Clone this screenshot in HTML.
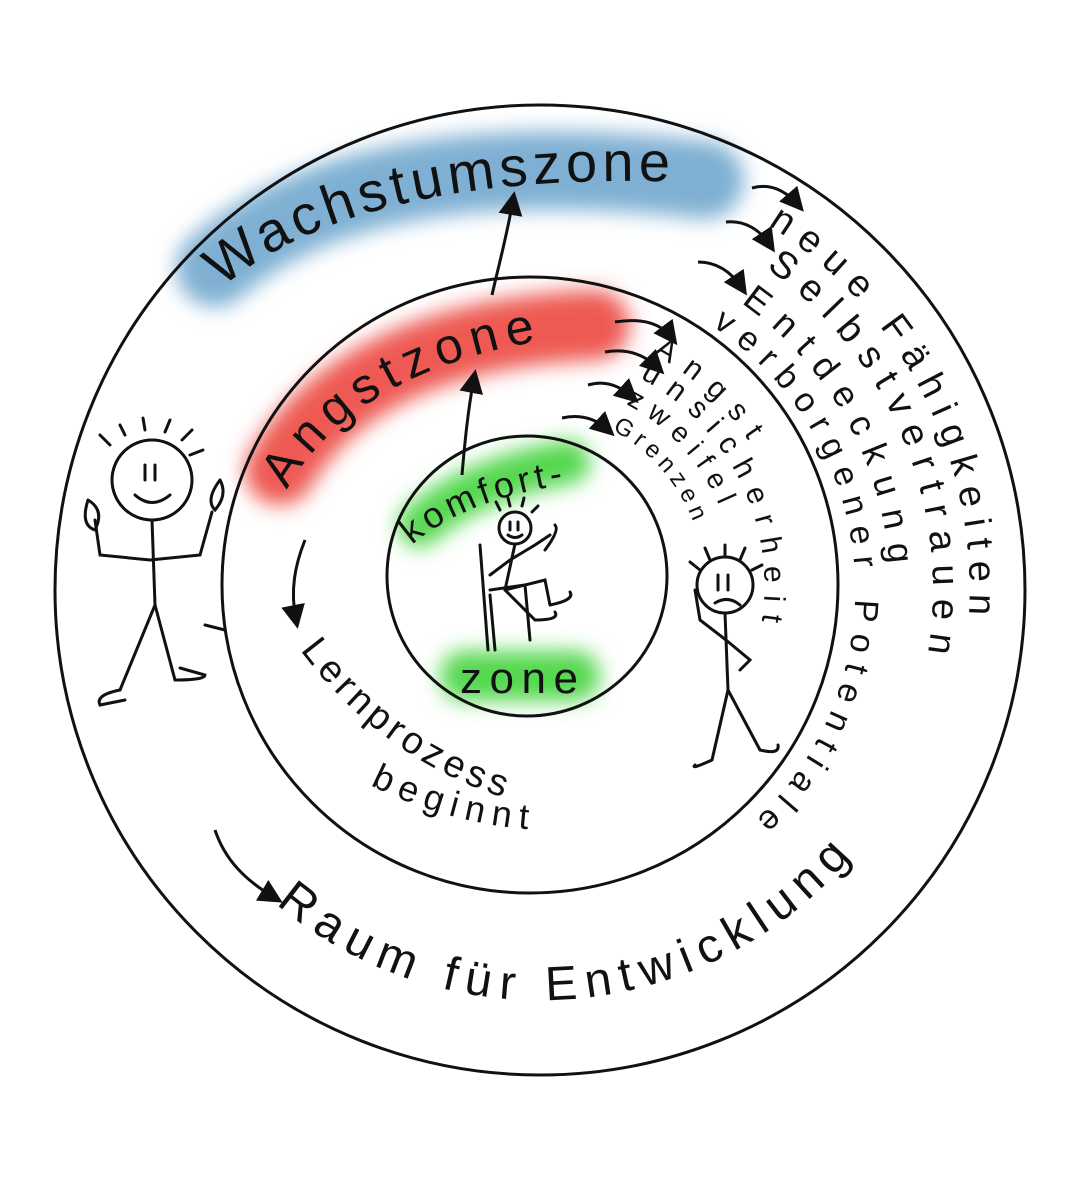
<!DOCTYPE html>
<html><head><meta charset="utf-8"><style>
html,body{margin:0;padding:0;background:#fff}
svg{display:block}
text{font-family:"Liberation Sans",sans-serif;fill:#111}
</style></head><body>
<svg width="1080" height="1200" viewBox="0 0 1080 1200" xmlns="http://www.w3.org/2000/svg">
<defs>
<filter id="b" filterUnits="userSpaceOnUse" x="0" y="0" width="1080" height="1200"><feGaussianBlur stdDeviation="10"/></filter>
<marker id="ah" markerWidth="8" markerHeight="8" refX="5" refY="4" orient="auto"><path d="M0,0 L8,4 L0,8 Z" fill="#111"/></marker>
<path id="p1" d="M768,225 A430,430 0 0 1 968,627"/>
<path id="p2" d="M766,268 A393,393 0 0 1 927,658"/>
<path id="p3" d="M741,303 A350,350 0 0 1 890,590"/>
<path id="p4" d="M712,326 A315,315 0 0 1 743,831"/>
<path id="p5" d="M653,354 A262,262 0 0 1 776,495"/>
<path id="p6" d="M640,378 A235,235 0 0 1 761,626"/>
<path id="p7" d="M626,404 A205,205 0 0 1 732,549"/>
<path id="p8" d="M612,430 A175,175 0 0 1 699,540"/>
<path id="pb" d="M276,904 A410,410 0 0 0 876,825"/>
<path id="pw" d="M222,288 Q360,170 690,182"/>
<path id="pa" d="M287,490 Q360,360 582,335"/>
<path id="pk" d="M412,545 Q470,495 585,482"/>
<path id="pl" d="M300,650 Q390,770 530,805"/>
<path id="pg" d="M370,785 Q450,825 540,830"/>
</defs>
<!-- highlights -->
<path d="M215,268 Q360,140 705,180" stroke="#7fb0d3" stroke-width="78" fill="none" stroke-linecap="round" filter="url(#b)"/>
<path d="M280,470 Q360,335 595,325" stroke="#ee5a52" stroke-width="70" fill="none" stroke-linecap="round" filter="url(#b)"/>
<path d="M420,525 Q470,480 568,462" stroke="#55d84f" stroke-width="44" fill="none" stroke-linecap="round" filter="url(#b)"/>
<path d="M465,676 L575,676" stroke="#55d84f" stroke-width="50" fill="none" stroke-linecap="round" filter="url(#b)"/>
<!-- circles -->
<circle cx="540" cy="590" r="485" fill="none" stroke="#111" stroke-width="3"/>
<circle cx="530" cy="585" r="308" fill="none" stroke="#111" stroke-width="3"/>
<circle cx="527" cy="576" r="140" fill="none" stroke="#111" stroke-width="3"/>
<!-- titles -->
<text font-size="56"><textPath href="#pw" textLength="470" lengthAdjust="spacing">Wachstumszone</textPath></text>
<text font-size="50"><textPath href="#pa" textLength="300" lengthAdjust="spacing">Angstzone</textPath></text>
<text font-size="36"><textPath href="#pk" textLength="165" lengthAdjust="spacing">komfort-</textPath></text>
<text x="460" y="693" font-size="44" textLength="118" lengthAdjust="spacing">zone</text>
<!-- curved texts -->
<text font-size="38"><textPath href="#p1" textLength="460" lengthAdjust="spacing">neue Fähigkeiten</textPath></text>
<text font-size="38"><textPath href="#p2" textLength="440" lengthAdjust="spacing">Selbstvertrauen</textPath></text>
<text font-size="36"><textPath href="#p3" textLength="310" lengthAdjust="spacing">Entdeckung</textPath></text>
<text font-size="34"><textPath href="#p4" textLength="570" lengthAdjust="spacing">verborgener Potentiale</textPath></text>
<text font-size="30"><textPath href="#p5" textLength="130" lengthAdjust="spacing">Angst</textPath></text>
<text font-size="30"><textPath href="#p6" textLength="290" lengthAdjust="spacing">unsicherheit</textPath></text>
<text font-size="28"><textPath href="#p7" textLength="140" lengthAdjust="spacing">zweifel</textPath></text>
<text font-size="24"><textPath href="#p8" textLength="125" lengthAdjust="spacing">Grenzen</textPath></text>
<text font-size="48"><textPath href="#pb" textLength="640" lengthAdjust="spacing">Raum für Entwicklung</textPath></text>
<text font-size="38"><textPath href="#pl" textLength="255" lengthAdjust="spacing">Lernprozess</textPath></text>
<text font-size="36"><textPath href="#pg" textLength="165" lengthAdjust="spacing">beginnt</textPath></text>
<!-- arrows -->
<g stroke="#111" stroke-width="3" fill="none" marker-end="url(#ah)">
<path d="M492,295 C500,260 507,235 513,200"/>
<path d="M462,475 C465,440 468,410 474,378"/>
<path d="M752,188 C770,183 785,190 798,205"/>
<path d="M726,222 C745,220 760,230 770,245"/>
<path d="M698,262 C715,262 730,270 742,288"/>
<path d="M615,322 C640,318 660,322 672,338"/>
<path d="M605,352 C628,348 645,355 658,368"/>
<path d="M588,385 C605,380 620,386 632,397"/>
<path d="M562,418 C580,414 595,418 608,430"/>
<path d="M305,540 C295,565 290,590 296,620"/>
<path d="M215,830 C225,860 245,880 275,898"/>
</g>
<!-- stick figure left -->
<g stroke="#111" stroke-width="3" fill="none" stroke-linecap="round">
<circle cx="152" cy="480" r="40"/>
<path d="M145,465 L145,480 M155,465 L155,480 M135,495 Q152,510 170,495"/>
<path d="M110,445 L100,435 M125,435 L120,425 M145,430 L143,418 M165,432 L170,420 M182,440 L192,430 M190,455 L203,450"/>
<path d="M152,520 L155,605 M150,560 L100,555 L95,520 M150,560 L200,555 L212,512"/>
<path d="M88,500 Q80,525 95,530 Q105,510 88,500 M220,480 Q205,500 215,510 Q228,495 220,480"/>
<path d="M155,605 L120,690 M155,605 L175,680"/>
<path d="M120,690 Q95,695 100,705 L125,700 M175,680 Q205,680 205,675 L180,668"/>
<path d="M205,625 L225,630"/>
<!-- right figure -->
<circle cx="725" cy="585" r="28"/>
<path d="M718,575 L718,590 M728,575 L728,590 M715,603 Q728,595 740,605"/>
<path d="M700,570 L690,562 M710,560 L705,548 M725,557 L725,545 M740,560 L745,548 M752,570 L762,565"/>
<path d="M725,613 L728,690 M726,640 L700,620 L695,590 M726,640 L750,660 L740,670"/>
<path d="M728,690 L712,760 M728,690 L760,750 M712,760 Q690,770 695,765 M760,750 Q780,755 778,745"/>
<!-- center figure -->
<circle cx="515" cy="528" r="16"/>
<path d="M510,522 L510,530 M518,522 L518,530 M508,535 Q515,540 522,535"/>
<path d="M500,510 L496,502 M510,506 L508,498 M522,506 L524,498 M532,512 L538,506"/>
<path d="M515,544 L505,590 M510,560 L535,545 L550,535 M510,560 L490,575"/>
<path d="M505,590 L545,580 L550,605 M505,590 L530,615 L535,620"/>
<path d="M480,545 L488,650 M490,590 L525,585 L530,640 M490,595 L495,650"/>
<path d="M545,550 Q560,530 555,525 M550,605 Q575,600 570,592 M535,620 Q560,620 555,612"/>
</g>
</svg>
</body></html>
